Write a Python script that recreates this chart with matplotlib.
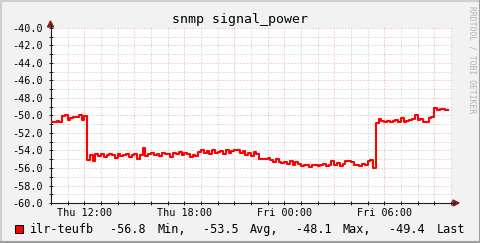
import matplotlib
matplotlib.use("Agg")
import matplotlib.pyplot as plt
from matplotlib.lines import Line2D
from matplotlib.patches import Rectangle
import numpy as np

# signal power samples, 10-minute steps starting Thu 10:00
t_start = 10.0          # hours since Thu 00:00
t_step = 1.0 / 6.0
power = [
    -50.7, -50.8, -50.6, -50.7, -50.1, -50.0, -50.5, -50.3, -50.2, -50.2, -50.0, -50.5, -50.1,
    -55.1, -54.5, -55.2, -54.4, -54.6, -54.4, -54.8, -54.5,
    -54.4, -54.5, -54.9, -54.4, -54.6, -54.5, -54.4, -54.7, -54.5, -54.4, -55.0, -54.5,
    -53.7,
    -54.6, -54.4, -54.3, -54.5, -54.4, -54.6, -54.3, -54.4, -54.4, -54.7, -54.3, -54.4, -54.2,
    -54.5, -54.3, -54.4, -54.7, -54.5, -54.6,
    -54.2, -54.0, -54.3, -54.1, -54.4, -54.0, -54.3, -54.2, -54.1, -54.4, -54.0, -54.3, -54.1,
    -54.0, -54.0, -54.3, -54.1, -54.5, -54.3, -54.6, -54.2, -54.4,
    -55.0, -55.0, -55.0, -54.9, -55.1, -55.3, -55.0, -55.3, -55.4,
    -55.3, -55.5, -55.2, -55.6, -55.3, -55.5, -55.8, -55.7, -55.6, -55.9, -55.7, -55.6, -55.8,
    -55.7, -55.5, -55.8, -55.6,
    -55.2, -55.6, -55.4, -55.8, -55.5, -55.2, -55.2, -55.3, -55.7, -55.6, -55.8, -55.5, -55.6,
    -55.2, -55.1,
    -56.0,
    -50.9, -50.4, -50.6, -50.7, -50.6, -50.8, -50.6, -50.5, -50.7, -50.3, -50.8, -50.6, -50.5,
    -50.4, -50.0, -50.5, -50.4, -50.8, -50.8, -50.3, -50.2,
    -49.1, -49.4, -49.2, -49.3, -49.4,
]

x_ticks = [12, 18, 24, 30]
x_labels = ["Thu 12:00", "Thu 18:00", "Fri 00:00", "Fri 06:00"]
y_ticks = [-40, -42, -44, -46, -48, -50, -52, -54, -56, -58, -60]

legend_name = "ilr-teufb"
legend_parts = ["-56.8", "Min,", "-53.5", "Avg,", "-48.1", "Max,", "-49.4", "Last"]

BACK = (0.95, 0.95, 0.95)
GRID = (0.56, 0.56, 0.56, 0.55)
MGRID = (0.87, 0.31, 0.31, 0.5)
ARROW = (0.5, 0.12, 0.12)
AXIS = (0.12, 0.12, 0.12)
MONO = "DejaVu Sans Mono"

W, H = 481, 243
fig = plt.figure(figsize=(W / 100, H / 100), dpi=100, facecolor=BACK)


def fx(px):
    return px / W


def fy(py):
    return 1 - py / H


x0, x1, ytop, ybot = 50.5, 451.7, 28.0, 203.0
ax = fig.add_axes([fx(x0), fy(ybot), fx(x1 - x0), (ybot - ytop) / H])
ax.set_facecolor("white")
ax.set_xlim(9.97, 34.05)
ax.set_ylim(-60, -40)

# rrdtool style dotted grids
dots = (0, (1, 2))
for h in np.arange(10, 35, 1):
    ax.axvline(h, color=MGRID if h % 3 == 0 else GRID, lw=0.72, ls=dots, zorder=1)
for v in np.arange(-59, -39, 1):
    ax.axhline(v, color=MGRID if v % 2 == 0 else GRID, lw=0.72, ls=dots, zorder=1)

t = t_start + t_step * np.arange(len(power) + 1)
ax.step(t, power + [power[-1]], where="post", color="#FF0000", lw=1.5, zorder=3)

for s in ["top", "right"]:
    ax.spines[s].set_visible(False)
for s in ["left", "bottom"]:
    ax.spines[s].set_color(AXIS)
    ax.spines[s].set_linewidth(0.8)

ax.set_xticks(x_ticks)
ax.set_xticklabels(x_labels, fontfamily=MONO, fontsize=7.3)
ax.set_yticks(y_ticks)
ax.set_yticklabels([f"{v:.1f}" for v in y_ticks], fontfamily=MONO, fontsize=7.3)
ax.set_xticks(np.arange(10, 35, 1), minor=True)
ax.set_yticks(np.arange(-60, -39, 1), minor=True)
ax.tick_params(which="both", direction="inout", length=3, width=0.7, color=AXIS)
ax.tick_params(axis="y", pad=4)
ax.tick_params(axis="x", pad=2)

# arrows
fig.add_artist(Line2D([fx(451.7), fx(455)], [fy(203), fy(203)], color=AXIS, lw=0.8))
fig.patches.append(plt.Polygon([[fx(453), fy(200)], [fx(459), fy(203)], [fx(453), fy(206)]],
                               closed=True, color=ARROW, transform=fig.transFigure))
fig.add_artist(Line2D([fx(50.5), fx(50.5)], [fy(28), fy(25)], color=AXIS, lw=0.8))
fig.patches.append(plt.Polygon([[fx(47.5), fy(27)], [fx(50.5), fy(21)], [fx(53.5), fy(27)]],
                               closed=True, color=ARROW, transform=fig.transFigure))

fig.text(0.5, fy(20), "snmp signal_power", ha="center", va="center",
         fontfamily=MONO, fontsize=9.5)
fig.text(fx(472), fy(60), "RRDTOOL / TOBI OETIKER", rotation=-90, ha="center", va="center",
         fontfamily=MONO, fontsize=5.8, color=(0.7, 0.7, 0.7))

# legend line
fig.patches.append(Rectangle((fx(15.5), fy(233)), fx(8), 8 / H, facecolor="#FF0000",
                             edgecolor="black", lw=0.7, transform=fig.transFigure))
fig.text(fx(29.5), fy(229), legend_name, ha="left", va="center", fontfamily=MONO, fontsize=8.5)
part_x = [109.5, 158, 203, 250, 296.5, 343, 389.5, 436.5]
for px, s in zip(part_x, legend_parts):
    fig.text(fx(px), fy(229), s, ha="left", va="center", fontfamily=MONO, fontsize=8.5)

# shaded border
fig.add_artist(Line2D([0, 1], [fy(1), fy(1)], color=(0.81, 0.81, 0.81), lw=1.5))
fig.add_artist(Line2D([fx(1), fx(1)], [0, 1], color=(0.81, 0.81, 0.81), lw=1.5))
fig.add_artist(Line2D([0, 1], [fy(242), fy(242)], color=(0.62, 0.62, 0.62), lw=1.5))
fig.add_artist(Line2D([fx(480), fx(480)], [0, 1], color=(0.62, 0.62, 0.62), lw=1.5))

fig.savefig("out.png", dpi=100, facecolor=BACK)
